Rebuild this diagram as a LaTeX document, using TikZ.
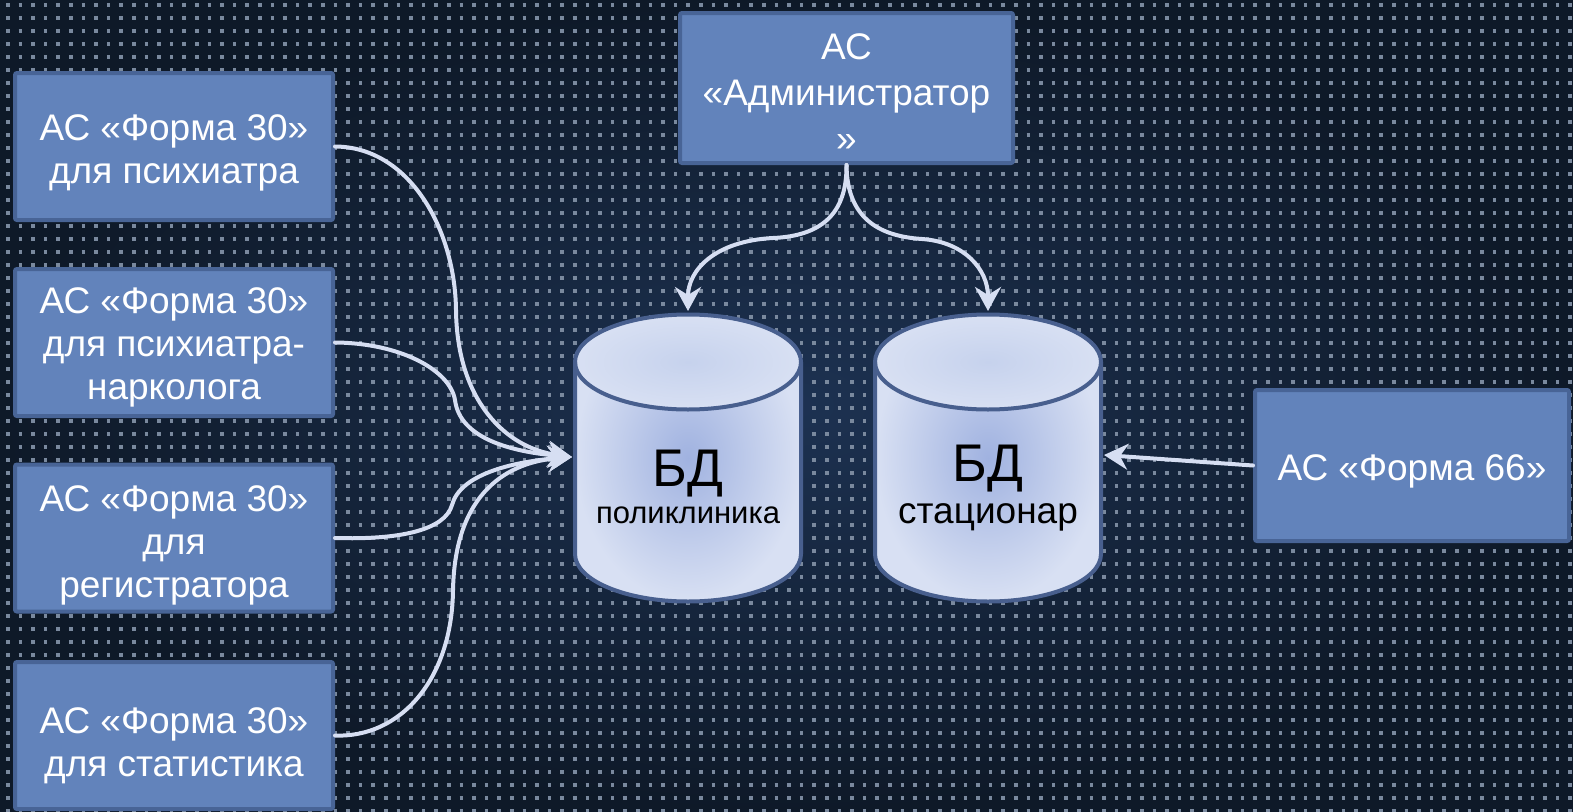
\documentclass[tikz,border=0pt]{standalone}
\usepackage{fontspec}
\setmainfont{Liberation Sans}
\usetikzlibrary{arrows.meta}
\definecolor{bgin}{RGB}{29,50,82}
\definecolor{bgout}{RGB}{14,25,40}
\definecolor{dotcol}{RGB}{122,137,158}
\definecolor{boxfill}{RGB}{98,131,187}
\definecolor{boxedge}{RGB}{72,100,150}
\definecolor{conncol}{RGB}{214,222,242}
\definecolor{cylin}{RGB}{160,178,224}
\definecolor{cylout}{RGB}{216,224,243}
\definecolor{cyltop}{RGB}{198,210,237}
\definecolor{cyledge}{RGB}{72,95,142}
\newcommand\myup[1]{\rule{0pt}{#1pt}}
\tikzset{
  box/.style={draw=boxedge, line width=4pt, fill=boxfill, text=white, align=center,
    inner sep=0pt, rounded corners=2pt, font=\fontsize{37}{43}\selectfont},
  conn/.style={draw=conncol, line width=4pt, line cap=round,
    -{Stealth[length=24pt,width=26pt,inset=8pt]}},
  dotrow/.style={draw=dotcol, line width=3.5pt, dash pattern=on 3.5pt off 9.1pt},
  cylline/.style={draw=cyledge, line width=4pt},
  bigdb/.style={anchor=base, text=black, font=\fontsize{53}{60}\selectfont},
  smalldb/.style={anchor=base, text=black, font=\fontsize{#1}{#1}\selectfont},
}
\newcommand\mycylinder[1]{%
  \begin{scope}[shift={(#1,0)}]
    \path[shading=radial, inner color=cylin, outer color=cylout]
      (-113,362) -- (-113,554) .. controls (-113,580.2) and (-62.4,601.5) .. (0,601.5)
      .. controls (62.4,601.5) and (113,580.2) .. (113,554) -- (113,362)
      .. controls (113,335.8) and (62.4,314.5) .. (0,314.5)
      .. controls (-62.4,314.5) and (-113,335.8) .. (-113,362) -- cycle;
    \path[shading=radial, inner color=cyltop, outer color=cylout]
      (-113,362) .. controls (-113,388.2) and (-62.4,409.5) .. (0,409.5)
      .. controls (62.4,409.5) and (113,388.2) .. (113,362)
      .. controls (113,335.8) and (62.4,314.5) .. (0,314.5)
      .. controls (-62.4,314.5) and (-113,335.8) .. (-113,362) -- cycle;
    \draw[cylline, line join=round]
      (-113,362) -- (-113,554) .. controls (-113,580.2) and (-62.4,601.5) .. (0,601.5)
      .. controls (62.4,601.5) and (113,580.2) .. (113,554) -- (113,362)
      .. controls (113,335.8) and (62.4,314.5) .. (0,314.5)
      .. controls (-62.4,314.5) and (-113,335.8) .. (-113,362) -- cycle;
    \draw[cylline]
      (-113,362) .. controls (-113,388.2) and (-62.4,409.5) .. (0,409.5)
      .. controls (62.4,409.5) and (113,388.2) .. (113,362);
  \end{scope}}
\begin{document}
\begin{tikzpicture}[x=1pt,y=-1pt]
\useasboundingbox (0,0) rectangle (1573,811);
% background
\fill[shading=radial, inner color=bgin, outer color=bgout] (0,0) rectangle (1573,811);
\foreach \yy in {5,18,...,811} \draw[dotrow] (6,\yy) -- (1573,\yy);

% cylinders
\mycylinder{688}
\mycylinder{988}
\node[bigdb] (db1t) at (688,486) {БД};
\node[smalldb=31] (db1s) at (688,523) {поликлиника};
\node[bigdb] (db2t) at (988,481) {БД};
\node[smalldb=37] (db2s) at (988,523) {стационар};
\coordinate (db1in) at (572,457);
\coordinate (db1top) at (688,311);
\coordinate (db2top) at (988,311);
\coordinate (db2in) at (1104,455);

% boxes
\node[box, minimum width=318pt, minimum height=147pt] (f1) at (174,146.5)
  {\myup{38}АС «Форма 30»\\для психиатра};
\node[box, minimum width=318pt, minimum height=147pt] (f2) at (174,342.5)
  {\myup{36}АС «Форма 30»\\для психиатра-\\нарколога};
\node[box, minimum width=318pt, minimum height=147pt] (f3) at (174,538)
  {\myup{40}АС «Форма 30»\\для\\регистратора};
\node[box, minimum width=318pt, minimum height=147pt] (f4) at (174,735.5)
  {\myup{47}АС «Форма 30»\\для статистика};
\node[box, minimum width=333pt, minimum height=150pt,
  font=\fontsize{37}{46}\selectfont] (adm) at (846.5,88)
  {\myup{34}АС\\«Администратор\\»};
\node[box, minimum width=314pt, minimum height=151pt] (f66) at (1412,465.5)
  {\myup{38}АС «Форма 66»};

% connectors
\draw[conn] (f1.east) .. controls (410,147) and (455,230) .. (456,310)
  .. controls (457,400) and (505,448) .. (db1in);
\draw[conn] (f2.east) .. controls (400,343) and (450,370) .. (455,400)
  .. controls (460,440) and (515,452) .. (db1in);
\draw[conn] (f3.east) .. controls (400,540) and (445,530) .. (452,505)
  .. controls (460,475) and (510,462) .. (db1in);
\draw[conn] (f4.east) .. controls (400,738) and (452,680) .. (453,590)
  .. controls (455,490) and (510,462) .. (db1in);
\draw[conn] (adm.south) .. controls (847,215) and (820,236) .. (773,238)
  .. controls (715,241) and (688,270) .. (db1top);
\draw[conn] (adm.south) .. controls (847,215) and (875,236) .. (922,239)
  .. controls (965,242) and (988,270) .. (db2top);
\draw[conn] (f66.west) -- (db2in);
\end{tikzpicture}
\end{document}
